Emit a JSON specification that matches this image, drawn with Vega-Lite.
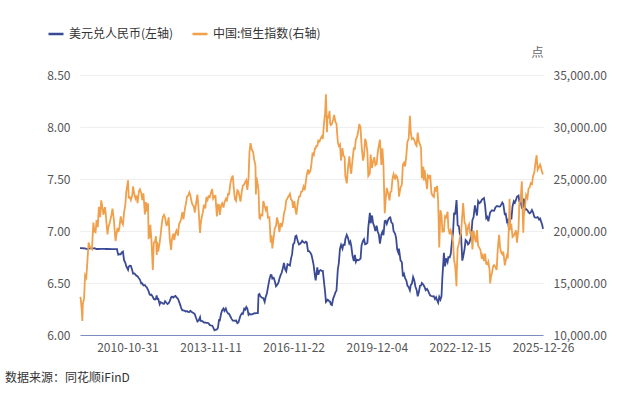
{
  "$schema": "https://vega.github.io/schema/vega-lite/v6.json",
  "width": 463,
  "height": 260,
  "autosize": {"type": "none"},
  "padding": {"left": 80, "top": 75, "right": 97, "bottom": 58},
  "background": "#ffffff",
  "config": {
    "font": "Noto Sans CJK SC",
    "view": {"stroke": null},
    "axis": {"labelFont": "Noto Sans CJK SC", "labelFontSize": 12, "labelColor": "#555555"},
    "legend": {"labelFont": "Noto Sans CJK SC"}
  },
  "title": {
    "text": "数据来源：同花顺iFinD",
    "orient": "bottom",
    "anchor": "start",
    "frame": "group",
    "dx": -75,
    "offset": 20,
    "fontSize": 12,
    "fontWeight": "normal",
    "color": "#333333"
  },
  "data": {
    "values": [
      {"d":"2009-02-06","u":6.836,"h":13655},{"d":"2009-02-15","u":6.836,"h":13556},{"d":"2009-03-02","u":6.836,"h":12317},{"d":"2009-03-09","u":6.836,"h":11345},{"d":"2009-03-16","u":6.834,"h":12976},{"d":"2009-04-01","u":6.833,"h":13519},{"d":"2009-04-15","u":6.832,"h":15750},{"d":"2009-05-01","u":6.828,"h":15521},{"d":"2009-05-15","u":6.826,"h":17022},{"d":"2009-06-01","u":6.831,"h":18889},{"d":"2009-06-15","u":6.832,"h":18499},{"d":"2009-07-01","u":6.832,"h":18379},{"d":"2009-07-15","u":6.831,"h":18255},{"d":"2009-08-03","u":6.832,"h":20807},{"d":"2009-08-17","u":6.834,"h":19954},{"d":"2009-09-01","u":6.831,"h":19872},{"d":"2009-09-15","u":6.827,"h":21050},{"d":"2009-10-01","u":6.827,"h":20375},{"d":"2009-10-15","u":6.827,"h":22319},{"d":"2009-11-02","u":6.828,"h":21325},{"d":"2009-11-16","u":6.828,"h":22943},{"d":"2009-12-01","u":6.828,"h":22289},{"d":"2009-12-15","u":6.828,"h":21545},
      {"d":"2010-01-04","u":6.828,"h":22298},{"d":"2010-01-15","u":6.827,"h":21654},{"d":"2010-02-01","u":6.827,"h":20121},{"d":"2010-02-08","u":6.827,"h":19665},{"d":"2010-02-16","u":6.827,"h":20268},{"d":"2010-03-01","u":6.826,"h":20608},{"d":"2010-03-15","u":6.827,"h":20985},{"d":"2010-04-01","u":6.826,"h":21540},{"d":"2010-04-15","u":6.826,"h":22157},{"d":"2010-05-03","u":6.826,"h":21100},{"d":"2010-05-25","u":6.826,"h":19035},{"d":"2010-06-15","u":6.826,"h":20062},{"d":"2010-06-21","u":6.798,"h":20286},{"d":"2010-07-01","u":6.773,"h":19906},{"d":"2010-07-15","u":6.778,"h":20255},{"d":"2010-08-02","u":6.777,"h":21413},{"d":"2010-08-16","u":6.794,"h":20863},{"d":"2010-09-01","u":6.802,"h":20623},{"d":"2010-09-15","u":6.722,"h":21726},{"d":"2010-10-04","u":6.691,"h":22618},{"d":"2010-10-15","u":6.661,"h":23757},{"d":"2010-11-08","u":6.627,"h":24876},{"d":"2010-11-17","u":6.657,"h":23214},{"d":"2010-12-01","u":6.667,"h":23249},{"d":"2010-12-15","u":6.666,"h":22975},
      {"d":"2011-01-03","u":6.622,"h":23436},{"d":"2011-01-14","u":6.590,"h":24283},{"d":"2011-02-01","u":6.592,"h":23482},{"d":"2011-02-15","u":6.580,"h":23121},{"d":"2011-03-01","u":6.568,"h":23406},{"d":"2011-03-15","u":6.565,"h":22678},{"d":"2011-04-01","u":6.546,"h":23802},{"d":"2011-04-15","u":6.533,"h":24008},{"d":"2011-05-03","u":6.495,"h":23633},{"d":"2011-05-16","u":6.497,"h":22960},{"d":"2011-06-01","u":6.476,"h":23626},{"d":"2011-06-20","u":6.480,"h":21600},{"d":"2011-07-04","u":6.466,"h":22770},{"d":"2011-07-15","u":6.458,"h":21875},{"d":"2011-08-01","u":6.434,"h":22663},{"d":"2011-08-09","u":6.421,"h":19331},{"d":"2011-08-22","u":6.390,"h":19400},{"d":"2011-09-01","u":6.385,"h":20585},{"d":"2011-09-15","u":6.388,"h":19181},{"d":"2011-10-04","u":6.367,"h":16250},{"d":"2011-10-17","u":6.345,"h":18874},{"d":"2011-11-01","u":6.341,"h":18963},{"d":"2011-11-15","u":6.357,"h":19498},{"d":"2011-11-25","u":6.380,"h":17689},{"d":"2011-12-01","u":6.347,"h":18963},{"d":"2011-12-15","u":6.348,"h":18027},
      {"d":"2012-01-03","u":6.295,"h":18877},{"d":"2012-01-16","u":6.316,"h":19627},{"d":"2012-02-01","u":6.311,"h":20740},{"d":"2012-02-15","u":6.302,"h":21365},{"d":"2012-03-01","u":6.300,"h":21562},{"d":"2012-03-15","u":6.325,"h":21308},{"d":"2012-04-02","u":6.310,"h":20556},{"d":"2012-04-16","u":6.298,"h":20611},{"d":"2012-05-02","u":6.306,"h":21309},{"d":"2012-05-16","u":6.326,"h":19259},{"d":"2012-06-04","u":6.362,"h":18185},{"d":"2012-06-15","u":6.369,"h":19233},{"d":"2012-07-03","u":6.360,"h":19735},{"d":"2012-07-16","u":6.370,"h":19121},{"d":"2012-08-01","u":6.376,"h":19820},{"d":"2012-08-15","u":6.361,"h":20052},{"d":"2012-09-03","u":6.348,"h":19559},{"d":"2012-09-17","u":6.321,"h":20658},{"d":"2012-10-02","u":6.292,"h":20840},{"d":"2012-10-16","u":6.259,"h":21207},{"d":"2012-11-01","u":6.237,"h":21821},{"d":"2012-11-15","u":6.236,"h":21108},{"d":"2012-12-03","u":6.232,"h":22070},{"d":"2012-12-17","u":6.226,"h":22605},
      {"d":"2013-01-02","u":6.230,"h":23311},{"d":"2013-01-15","u":6.222,"h":23381},{"d":"2013-02-01","u":6.220,"h":23722},{"d":"2013-02-15","u":6.232,"h":23444},{"d":"2013-03-01","u":6.224,"h":22880},{"d":"2013-03-15","u":6.216,"h":22533},{"d":"2013-04-02","u":6.209,"h":22367},{"d":"2013-04-15","u":6.200,"h":21773},{"d":"2013-05-02","u":6.163,"h":22668},{"d":"2013-05-20","u":6.129,"h":23493},{"d":"2013-06-03","u":6.137,"h":22282},{"d":"2013-06-24","u":6.172,"h":19814},{"d":"2013-07-02","u":6.136,"h":20658},{"d":"2013-07-16","u":6.135,"h":21312},{"d":"2013-08-01","u":6.129,"h":21811},{"d":"2013-08-15","u":6.119,"h":22541},{"d":"2013-09-02","u":6.121,"h":22175},{"d":"2013-09-16","u":6.116,"h":23252},{"d":"2013-10-02","u":6.116,"h":22984},{"d":"2013-10-15","u":6.113,"h":23337},{"d":"2013-11-01","u":6.095,"h":23249},{"d":"2013-11-15","u":6.093,"h":23660},{"d":"2013-12-02","u":6.091,"h":24038},{"d":"2013-12-16","u":6.074,"h":23114},
      {"d":"2014-01-02","u":6.045,"h":23340},{"d":"2014-01-15","u":6.050,"h":23380},{"d":"2014-02-03","u":6.054,"h":21397},{"d":"2014-02-17","u":6.069,"h":22535},{"d":"2014-03-03","u":6.142,"h":22500},{"d":"2014-03-14","u":6.140,"h":21539},{"d":"2014-04-01","u":6.206,"h":22448},{"d":"2014-04-15","u":6.238,"h":22672},{"d":"2014-05-02","u":6.254,"h":22260},{"d":"2014-05-15","u":6.232,"h":22731},{"d":"2014-06-02","u":6.255,"h":23081},{"d":"2014-06-16","u":6.224,"h":22934},{"d":"2014-07-02","u":6.207,"h":23549},{"d":"2014-07-15","u":6.204,"h":23523},{"d":"2014-08-01","u":6.180,"h":24532},{"d":"2014-08-15","u":6.160,"h":25000},{"d":"2014-09-03","u":6.138,"h":25318},{"d":"2014-09-16","u":6.138,"h":24136},{"d":"2014-10-02","u":6.137,"h":23064},{"d":"2014-10-16","u":6.141,"h":22900},{"d":"2014-11-03","u":6.114,"h":23915},{"d":"2014-11-17","u":6.121,"h":23797},{"d":"2014-12-01","u":6.153,"h":23367},{"d":"2014-12-15","u":6.187,"h":22821},
      {"d":"2015-01-02","u":6.207,"h":23857},{"d":"2015-01-15","u":6.203,"h":24350},{"d":"2015-02-02","u":6.253,"h":24484},{"d":"2015-02-16","u":6.243,"h":24726},{"d":"2015-03-02","u":6.270,"h":24887},{"d":"2015-03-16","u":6.254,"h":23950},{"d":"2015-04-01","u":6.195,"h":25082},{"d":"2015-04-13","u":6.205,"h":27561},{"d":"2015-04-27","u":6.197,"h":28443},{"d":"2015-05-15","u":6.199,"h":27822},{"d":"2015-06-01","u":6.202,"h":27597},{"d":"2015-06-15","u":6.209,"h":26861},{"d":"2015-07-02","u":6.208,"h":26282},{"d":"2015-07-08","u":6.210,"h":23516},{"d":"2015-07-16","u":6.210,"h":25162},{"d":"2015-08-03","u":6.211,"h":24411},{"d":"2015-08-12","u":6.388,"h":23916},{"d":"2015-08-24","u":6.395,"h":21251},{"d":"2015-09-01","u":6.377,"h":21185},{"d":"2015-09-15","u":6.366,"h":21562},{"d":"2015-10-02","u":6.356,"h":21507},{"d":"2015-10-15","u":6.355,"h":22888},{"d":"2015-11-02","u":6.319,"h":22371},{"d":"2015-11-16","u":6.369,"h":22029},{"d":"2015-12-01","u":6.398,"h":22381},{"d":"2015-12-15","u":6.456,"h":21274},
      {"d":"2016-01-04","u":6.535,"h":21327},{"d":"2016-01-21","u":6.578,"h":18886},{"d":"2016-02-01","u":6.577,"h":19596},{"d":"2016-02-12","u":6.542,"h":18320},{"d":"2016-03-01","u":6.550,"h":19407},{"d":"2016-03-15","u":6.519,"h":20257},{"d":"2016-04-01","u":6.469,"h":20499},{"d":"2016-04-15","u":6.481,"h":21316},{"d":"2016-05-03","u":6.503,"h":20677},{"d":"2016-05-16","u":6.541,"h":19883},{"d":"2016-06-01","u":6.576,"h":20760},{"d":"2016-06-15","u":6.598,"h":20387},{"d":"2016-07-04","u":6.651,"h":20995},{"d":"2016-07-15","u":6.693,"h":21659},{"d":"2016-08-01","u":6.631,"h":22129},{"d":"2016-08-15","u":6.613,"h":22932},{"d":"2016-09-01","u":6.682,"h":23162},{"d":"2016-09-15","u":6.676,"h":23335},{"d":"2016-10-03","u":6.668,"h":23584},{"d":"2016-10-17","u":6.732,"h":23038},{"d":"2016-11-01","u":6.777,"h":22934},{"d":"2016-11-15","u":6.872,"h":22223},{"d":"2016-12-01","u":6.886,"h":22878},{"d":"2016-12-15","u":6.950,"h":22059},{"d":"2016-12-28","u":6.956,"h":21574},
      {"d":"2017-01-16","u":6.902,"h":22718},{"d":"2017-02-01","u":6.871,"h":23318},{"d":"2017-02-15","u":6.877,"h":23326},{"d":"2017-03-01","u":6.888,"h":23776},{"d":"2017-03-15","u":6.906,"h":23792},{"d":"2017-04-03","u":6.891,"h":24262},{"d":"2017-04-18","u":6.885,"h":23924},{"d":"2017-05-02","u":6.897,"h":24696},{"d":"2017-05-15","u":6.891,"h":25371},{"d":"2017-06-01","u":6.807,"h":25924},{"d":"2017-06-15","u":6.807,"h":25565},{"d":"2017-07-03","u":6.792,"h":25784},{"d":"2017-07-17","u":6.771,"h":26470},{"d":"2017-08-01","u":6.724,"h":27540},{"d":"2017-08-15","u":6.672,"h":27174},{"d":"2017-09-01","u":6.571,"h":27953},{"d":"2017-09-11","u":6.525,"h":27955},{"d":"2017-09-18","u":6.563,"h":28160},{"d":"2017-10-03","u":6.651,"h":28173},{"d":"2017-10-16","u":6.579,"h":28692},{"d":"2017-11-01","u":6.618,"h":28594},{"d":"2017-11-15","u":6.625,"h":28852},{"d":"2017-12-01","u":6.616,"h":29074},{"d":"2017-12-15","u":6.616,"h":28848},
      {"d":"2018-01-02","u":6.497,"h":30516},{"d":"2018-01-15","u":6.411,"h":31338},{"d":"2018-01-26","u":6.318,"h":33154},{"d":"2018-02-09","u":6.330,"h":29507},{"d":"2018-02-15","u":6.340,"h":31116},{"d":"2018-03-01","u":6.335,"h":30844},{"d":"2018-03-15","u":6.320,"h":31541},{"d":"2018-03-23","u":6.320,"h":30309},{"d":"2018-04-02","u":6.295,"h":30180},{"d":"2018-04-16","u":6.288,"h":30315},{"d":"2018-05-02","u":6.350,"h":30724},{"d":"2018-05-15","u":6.373,"h":31152},{"d":"2018-06-01","u":6.410,"h":30492},{"d":"2018-06-15","u":6.425,"h":30309},{"d":"2018-07-03","u":6.630,"h":28546},{"d":"2018-07-16","u":6.689,"h":28181},{"d":"2018-08-01","u":6.831,"h":28340},{"d":"2018-08-15","u":6.866,"h":26774},{"d":"2018-09-03","u":6.830,"h":27973},{"d":"2018-09-14","u":6.870,"h":27286},{"d":"2018-10-02","u":6.867,"h":27091},{"d":"2018-10-11","u":6.921,"h":25267},{"d":"2018-10-30","u":6.963,"h":24586},{"d":"2018-11-15","u":6.935,"h":25985},{"d":"2018-12-03","u":6.880,"h":27182},{"d":"2018-12-17","u":6.898,"h":26094},{"d":"2018-12-28","u":6.862,"h":25504},
      {"d":"2019-01-15","u":6.761,"h":26830},{"d":"2019-02-01","u":6.710,"h":27930},{"d":"2019-02-15","u":6.770,"h":27901},{"d":"2019-03-01","u":6.703,"h":28812},{"d":"2019-03-15","u":6.724,"h":29012},{"d":"2019-04-01","u":6.718,"h":29562},{"d":"2019-04-15","u":6.724,"h":30280},{"d":"2019-05-02","u":6.734,"h":29944},{"d":"2019-05-15","u":6.862,"h":28268},{"d":"2019-06-03","u":6.904,"h":26762},{"d":"2019-06-17","u":6.920,"h":27227},{"d":"2019-07-02","u":6.872,"h":28875},{"d":"2019-07-15","u":6.876,"h":28554},{"d":"2019-08-01","u":6.886,"h":27565},{"d":"2019-08-13","u":7.035,"h":25281},{"d":"2019-09-03","u":7.175,"h":25527},{"d":"2019-09-13","u":7.074,"h":27353},{"d":"2019-10-02","u":7.149,"h":26042},{"d":"2019-10-15","u":7.079,"h":26665},{"d":"2019-11-01","u":7.043,"h":27101},{"d":"2019-11-15","u":7.000,"h":26327},{"d":"2019-12-02","u":7.051,"h":26444},{"d":"2019-12-16","u":6.995,"h":27508},{"d":"2019-12-31","u":6.967,"h":28190},
      {"d":"2020-01-15","u":6.879,"h":28773},{"d":"2020-02-03","u":6.966,"h":26356},{"d":"2020-02-17","u":6.993,"h":27959},{"d":"2020-03-02","u":6.960,"h":26292},{"d":"2020-03-19","u":7.094,"h":21709},{"d":"2020-04-01","u":7.098,"h":23085},{"d":"2020-04-15","u":7.068,"h":24145},{"d":"2020-05-04","u":7.109,"h":23613},{"d":"2020-05-22","u":7.130,"h":22930},{"d":"2020-06-01","u":7.132,"h":23732},{"d":"2020-06-15","u":7.083,"h":23777},{"d":"2020-07-02","u":7.070,"h":25124},{"d":"2020-07-15","u":6.997,"h":25481},{"d":"2020-08-03","u":6.975,"h":24947},{"d":"2020-08-17","u":6.937,"h":25347},{"d":"2020-09-01","u":6.821,"h":25185},{"d":"2020-09-15","u":6.793,"h":24640},{"d":"2020-09-24","u":6.831,"h":23311},{"d":"2020-10-15","u":6.718,"h":24158},{"d":"2020-11-02","u":6.700,"h":24460},{"d":"2020-11-16","u":6.563,"h":26382},{"d":"2020-12-01","u":6.587,"h":26567},{"d":"2020-12-15","u":6.546,"h":26207},{"d":"2020-12-31","u":6.525,"h":27231},
      {"d":"2021-01-15","u":6.476,"h":28573},{"d":"2021-02-01","u":6.460,"h":28893},{"d":"2021-02-17","u":6.430,"h":31085},{"d":"2021-03-01","u":6.481,"h":29452},{"d":"2021-03-15","u":6.492,"h":28834},{"d":"2021-04-01","u":6.558,"h":28939},{"d":"2021-04-15","u":6.529,"h":28793},{"d":"2021-05-03","u":6.462,"h":28357},{"d":"2021-05-17","u":6.436,"h":28194},{"d":"2021-06-01","u":6.372,"h":29468},{"d":"2021-06-15","u":6.409,"h":28638},{"d":"2021-07-02","u":6.473,"h":28310},{"d":"2021-07-15","u":6.475,"h":27996},{"d":"2021-07-27","u":6.500,"h":25086},{"d":"2021-08-16","u":6.484,"h":26181},{"d":"2021-08-20","u":6.476,"h":24849},{"d":"2021-09-01","u":6.462,"h":25878},{"d":"2021-09-15","u":6.431,"h":25033},{"d":"2021-10-04","u":6.444,"h":24036},{"d":"2021-10-15","u":6.430,"h":25330},{"d":"2021-11-01","u":6.401,"h":25154},{"d":"2021-11-15","u":6.380,"h":25390},{"d":"2021-12-01","u":6.375,"h":23658},{"d":"2021-12-15","u":6.371,"h":23420},
      {"d":"2022-01-03","u":6.373,"h":23274},{"d":"2022-01-17","u":6.346,"h":24218},{"d":"2022-02-01","u":6.363,"h":23802},{"d":"2022-02-15","u":6.332,"h":24355},{"d":"2022-03-01","u":6.310,"h":22761},{"d":"2022-03-15","u":6.367,"h":18415},{"d":"2022-03-31","u":6.340,"h":21997},{"d":"2022-04-14","u":6.372,"h":21518},{"d":"2022-04-26","u":6.557,"h":19934},{"d":"2022-05-16","u":6.790,"h":19950},{"d":"2022-05-31","u":6.660,"h":21415},{"d":"2022-06-15","u":6.737,"h":21308},{"d":"2022-07-04","u":6.701,"h":21853},{"d":"2022-07-15","u":6.748,"h":20297},{"d":"2022-08-01","u":6.745,"h":19689},{"d":"2022-08-15","u":6.779,"h":20041},{"d":"2022-09-01","u":6.906,"h":19597},{"d":"2022-09-15","u":6.989,"h":18930},{"d":"2022-09-28","u":7.168,"h":17250},{"d":"2022-10-14","u":7.166,"h":16588},{"d":"2022-10-31","u":7.298,"h":14687},{"d":"2022-11-04","u":7.247,"h":16161},{"d":"2022-11-15","u":7.056,"h":18343},{"d":"2022-12-01","u":7.046,"h":18736},{"d":"2022-12-15","u":6.967,"h":19368},{"d":"2022-12-30","u":6.965,"h":19781},
      {"d":"2023-01-16","u":6.715,"h":21578},{"d":"2023-01-27","u":6.749,"h":22689},{"d":"2023-02-15","u":6.826,"h":20813},{"d":"2023-03-01","u":6.913,"h":20619},{"d":"2023-03-15","u":6.903,"h":19539},{"d":"2023-04-03","u":6.871,"h":20409},{"d":"2023-04-17","u":6.881,"h":20650},{"d":"2023-05-02","u":6.918,"h":19700},{"d":"2023-05-15","u":6.947,"h":19971},{"d":"2023-05-31","u":7.106,"h":18234},{"d":"2023-06-15","u":7.132,"h":20040},{"d":"2023-07-03","u":7.246,"h":19306},{"d":"2023-07-17","u":7.193,"h":18916},{"d":"2023-07-31","u":7.149,"h":20079},{"d":"2023-08-15","u":7.287,"h":18581},{"d":"2023-09-01","u":7.267,"h":18382},{"d":"2023-09-15","u":7.275,"h":18182},{"d":"2023-10-03","u":7.299,"h":17331},{"d":"2023-10-16","u":7.308,"h":17640},{"d":"2023-11-01","u":7.316,"h":17101},{"d":"2023-11-15","u":7.249,"h":17833},{"d":"2023-12-01","u":7.123,"h":16830},{"d":"2023-12-15","u":7.135,"h":16792},{"d":"2023-12-29","u":7.094,"h":17047},
      {"d":"2024-01-15","u":7.154,"h":16217},{"d":"2024-01-22","u":7.178,"h":14961},{"d":"2024-02-01","u":7.188,"h":15566},{"d":"2024-02-15","u":7.199,"h":15944},{"d":"2024-03-01","u":7.197,"h":16589},{"d":"2024-03-15","u":7.195,"h":16721},{"d":"2024-04-01","u":7.227,"h":16541},{"d":"2024-04-17","u":7.239,"h":16251},{"d":"2024-05-02","u":7.238,"h":18206},{"d":"2024-05-20","u":7.234,"h":19636},{"d":"2024-06-03","u":7.236,"h":18404},{"d":"2024-06-17","u":7.253,"h":17936},{"d":"2024-07-02","u":7.274,"h":17770},{"d":"2024-07-15","u":7.260,"h":18015},{"d":"2024-08-05","u":7.153,"h":16699},{"d":"2024-08-15","u":7.173,"h":17110},{"d":"2024-09-02","u":7.091,"h":17651},{"d":"2024-09-13","u":7.103,"h":17369},{"d":"2024-09-30","u":7.016,"h":21133},{"d":"2024-10-07","u":7.017,"h":23100},{"d":"2024-10-16","u":7.120,"h":20286},{"d":"2024-11-01","u":7.119,"h":20506},{"d":"2024-11-15","u":7.236,"h":19426},{"d":"2024-12-02","u":7.286,"h":19550},{"d":"2024-12-16","u":7.271,"h":19795},{"d":"2024-12-31","u":7.299,"h":20060},
      {"d":"2025-01-13","u":7.330,"h":18874},{"d":"2025-02-03","u":7.341,"h":20218},{"d":"2025-02-14","u":7.283,"h":22620},{"d":"2025-03-03","u":7.282,"h":23006},{"d":"2025-03-19","u":7.226,"h":24771},{"d":"2025-04-07","u":7.234,"h":19828},{"d":"2025-04-15","u":7.311,"h":21467},{"d":"2025-05-02","u":7.205,"h":22505},{"d":"2025-05-15","u":7.211,"h":23453},{"d":"2025-06-02","u":7.198,"h":23158},{"d":"2025-06-16","u":7.181,"h":24061},{"d":"2025-07-02","u":7.170,"h":24221},{"d":"2025-07-15","u":7.178,"h":24591},{"d":"2025-08-01","u":7.201,"h":24507},{"d":"2025-08-15","u":7.180,"h":25270},{"d":"2025-09-01","u":7.137,"h":25618},{"d":"2025-09-15","u":7.129,"h":26446},{"d":"2025-10-02","u":7.128,"h":27287},{"d":"2025-10-16","u":7.135,"h":25889},{"d":"2025-11-03","u":7.110,"h":26158},{"d":"2025-11-17","u":7.120,"h":26384},{"d":"2025-12-01","u":7.090,"h":26033},{"d":"2025-12-15","u":7.060,"h":25628},{"d":"2025-12-26","u":7.020,"h":25450}
    ]
  },
  "encoding": {
    "x": {
      "field": "d",
      "type": "temporal",
      "scale": {"type": "utc"},
      "axis": {
        "title": null,
        "values": [
          {"year": 2010, "month": 10, "date": 31, "utc": true},
          {"year": 2013, "month": 11, "date": 11, "utc": true},
          {"year": 2016, "month": 11, "date": 22, "utc": true},
          {"year": 2019, "month": 12, "date": 4, "utc": true},
          {"year": 2022, "month": 12, "date": 15, "utc": true},
          {"year": 2025, "month": 12, "date": 26, "utc": true}
        ],
        "format": "%Y-%m-%d",
        "grid": false,
        "ticks": false,
        "domainColor": "#7d8cbf",
        "domainWidth": 1,
        "labelPadding": 7,
        "labelOverlap": false,
        "labelFlush": false
      }
    }
  },
  "layer": [
    {
      "mark": {"type": "line", "strokeWidth": 1.8, "interpolate": "linear"},
      "encoding": {
        "y": {
          "field": "u",
          "type": "quantitative",
          "scale": {"domain": [6, 8.5], "nice": false, "zero": false},
          "axis": {
            "title": null,
            "values": [6, 6.5, 7, 7.5, 8, 8.5],
            "format": ".2f",
            "grid": true,
            "gridColor": "#eeeeee",
            "domain": false,
            "ticks": false,
            "labelPadding": 10
          }
        },
        "color": {
          "datum": "美元兑人民币(左轴)",
          "type": "nominal",
          "scale": {
            "domain": ["美元兑人民币(左轴)", "中国:恒生指数(右轴)"],
            "range": ["#3a4a95", "#f0a04b"]
          },
          "legend": {
            "title": null,
            "orient": "none",
            "legendX": -33,
            "legendY": -50,
            "direction": "horizontal",
            "symbolType": "stroke",
            "symbolSize": 225,
            "symbolStrokeWidth": 2.5,
            "labelFontSize": 12,
            "labelColor": "#333333",
            "labelOffset": 4,
            "columnPadding": 13,
            "padding": 0
          }
        }
      }
    },
    {
      "mark": {"type": "line", "strokeWidth": 1.8, "interpolate": "linear"},
      "encoding": {
        "y": {
          "field": "h",
          "type": "quantitative",
          "scale": {"domain": [10000, 35000], "nice": false, "zero": false},
          "axis": {
            "orient": "right",
            "title": "点",
            "titleAngle": 0,
            "titleX": -6,
            "titleY": -23,
            "titleAlign": "center",
            "titleBaseline": "middle",
            "titleFontSize": 12,
            "titleFontWeight": "normal",
            "titleColor": "#666666",
            "values": [10000, 15000, 20000, 25000, 30000, 35000],
            "format": ",.2f",
            "grid": false,
            "domain": false,
            "ticks": false,
            "labelPadding": 10
          }
        },
        "color": {"datum": "中国:恒生指数(右轴)", "type": "nominal"}
      }
    }
  ],
  "resolve": {"scale": {"y": "independent"}}
}
